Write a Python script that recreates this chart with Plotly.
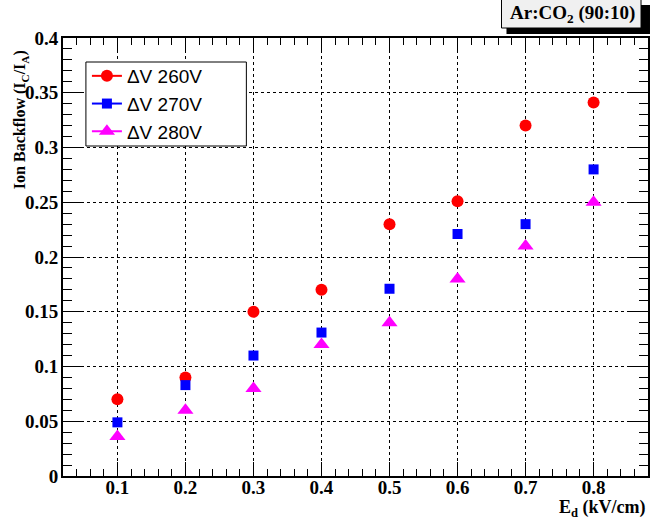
import plotly.graph_objects as go

# ---- data ----
ed = [0.1, 0.2, 0.3, 0.4, 0.5, 0.6, 0.7, 0.8]
ibf_260 = [0.070, 0.090, 0.150, 0.170, 0.230, 0.251, 0.320, 0.341]
ibf_270 = [0.049, 0.083, 0.110, 0.131, 0.171, 0.221, 0.230, 0.280]
ibf_280 = [0.036, 0.060, 0.080, 0.120, 0.140, 0.180, 0.210, 0.250]
series_names = ["\u0394V 260V", "\u0394V 270V", "\u0394V 280V"]
x_tick_vals = [0.1, 0.2, 0.3, 0.4, 0.5, 0.6, 0.7, 0.8]
x_tick_text = ["0.1", "0.2", "0.3", "0.4", "0.5", "0.6", "0.7", "0.8"]
y_tick_vals = [0, 0.05, 0.1, 0.15, 0.2, 0.25, 0.3, 0.35, 0.4]
y_tick_text = ["0", "0.05", "0.1", "0.15", "0.2", "0.25", "0.3", "0.35", "0.4"]

W, H = 652, 522
L, R, T, B = 63, 2, 38, 46
PW, PH = W - L - R, H - T - B


def px(x):
    return (x - L) / PW


def py(y):
    return (H - B - y) / PH


serif = "Liberation Serif, Times New Roman, serif"
sans = "Liberation Sans, Arial, sans-serif"

styles = [
    dict(color="#ff0000", symbol="circle", size=12),
    dict(color="#0000ff", symbol="square", size=10),
    dict(color="#ff00ff", symbol="triangle-up", size=14),
]

fig = go.Figure()
for ys, st in zip([ibf_260, ibf_270, ibf_280], styles):
    fig.add_trace(go.Scatter(x=ed, y=ys, mode="markers", marker=st,
                             showlegend=False, hoverinfo="x+y"))
for name, st in zip(series_names, styles):
    fig.add_trace(go.Scatter(x=[None], y=[None], mode="lines+markers", name=name,
                             marker=st, line=dict(color=st["color"], width=2)))

axis_common = dict(
    showline=True, linecolor="black", linewidth=2, mirror="ticks",
    ticks="inside", tickcolor="black", tickwidth=1,
    showgrid=True, gridcolor="black", gridwidth=1, griddash="dot",
    zeroline=False,
    tickfont=dict(family=serif, size=19, color="black", weight="bold"),
)

fig.update_layout(
    width=W, height=H,
    margin=dict(l=L, r=R, t=T, b=B, pad=0),
    paper_bgcolor="white", plot_bgcolor="white",
    xaxis=dict(range=[0.02, 0.88], tickvals=x_tick_vals, ticktext=x_tick_text,
               ticklen=14, ticklabelstandoff=-7,
               minor=dict(ticks="inside", dtick=0.02, tick0=0, ticklen=7,
                          tickcolor="black", showgrid=False),
               **axis_common),
    yaxis=dict(range=[0, 0.4], tickvals=y_tick_vals, ticktext=y_tick_text,
               ticklen=18, ticklabelstandoff=-1,
               minor=dict(ticks="inside", dtick=0.01, tick0=0, ticklen=9,
                          tickcolor="black", showgrid=False),
               **axis_common),
    legend=dict(x=px(87), y=py(57), xanchor="left", yanchor="top",
                bgcolor="rgba(0,0,0,0)", borderwidth=0,
                font=dict(family=sans, size=19, color="black"),
                itemwidth=30),
    shapes=[
        dict(type="rect", xref="paper", yref="paper",
             x0=px(86), x1=px(247), y0=py(146), y1=py(62),
             fillcolor="white", line=dict(color="black", width=1), layer="above"),
        dict(type="rect", xref="paper", yref="paper",
             x0=px(508), x1=px(652), y0=py(34), y1=py(5),
             fillcolor="black", line=dict(width=0), layer="above"),
        dict(type="rect", xref="paper", yref="paper",
             x0=px(503), x1=px(643), y0=py(28), y1=py(-2),
             fillcolor="#f0f0f0", line=dict(color="black", width=1), layer="above"),
    ],
    annotations=[
        dict(text="Ar:CO<sub>2</sub> (90:10)", xref="paper", yref="paper",
             x=px(574), y=py(14), xanchor="center", yanchor="middle",
             showarrow=False, font=dict(family=serif, size=19, color="black", weight="bold")),
        dict(text="E<sub>d</sub> (kV/cm)", xref="paper", yref="paper",
             x=px(650), y=py(508), xanchor="right", yanchor="middle",
             showarrow=False, font=dict(family=serif, size=18, color="black", weight="bold")),
        dict(text="Ion Backflow (I<sub>C</sub>/I<sub>A</sub>)", xref="paper", yref="paper",
             x=px(20), y=py(120), xanchor="center", yanchor="middle", textangle=-90,
             showarrow=False, font=dict(family=serif, size=16, color="black", weight="bold")),
    ],
)

fig.write_html("out.html")
